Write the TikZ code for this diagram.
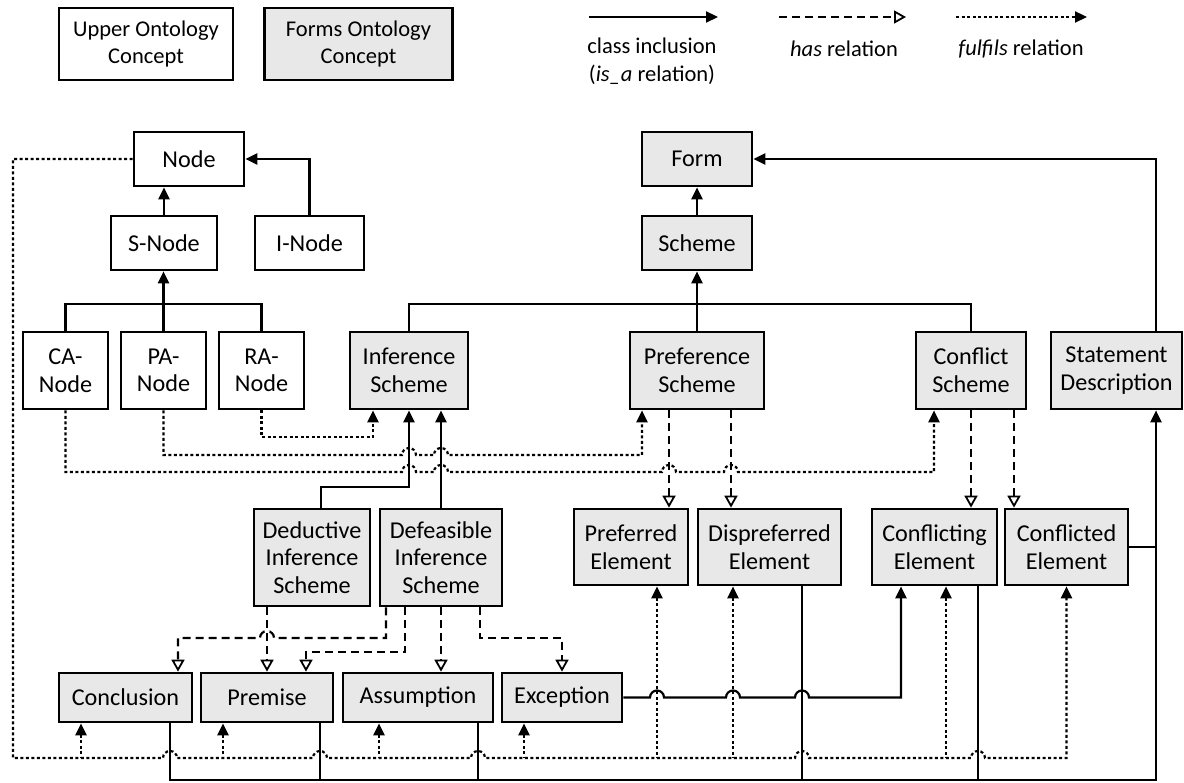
\documentclass[tikz,border=0pt]{standalone}
\usepackage{fontspec}
\setmainfont{Carlito}
\usetikzlibrary{arrows.meta}
\definecolor{formgray}{RGB}{232,232,232}
\newcommand\hopR[2]{-- ({#1-7},{#2}) arc[start angle=180,end angle=0,radius=7]}
\newcommand\hopL[2]{-- ({#1+7},{#2}) arc[start angle=0,end angle=180,radius=7]}
\begin{document}
\begin{tikzpicture}[x=1pt,y=1pt,
  every node/.style={font=\fontsize{24.2}{27.5}\selectfont},
  ubox/.style 2 args={draw, line width=2.7pt, align=center, inner sep=0pt, minimum width=#1, minimum height=#2},
  fbox/.style 2 args={ubox={#1}{#2}, fill=formgray},
  legfont/.style={font=\fontsize{22.5}{27.5}\selectfont},
  lbl/.style={align=center, inner sep=0pt},
  conn/.style={line width=2.2pt},
  isa/.style={conn, -{Triangle[length=12pt,width=11pt]}},
  has/.style={conn, dash pattern=on 8pt off 5pt, -{Triangle[open,length=12pt,width=13pt,line width=1.8pt]}},
  ful/.style={conn, dash pattern=on 3pt off 2.5pt, -{Triangle[length=12pt,width=11pt]}},
  fulb/.style={conn, dash pattern=on 3pt off 2.5pt, {Triangle[length=12pt,width=11pt]}-}]
\useasboundingbox[fill=white] (0,0) rectangle (1184,-783);

% legend
\node[ubox={174}{72}, legfont] (leg1) at (146,-44) {Upper Ontology\\Concept};
\node[fbox={188}{72}, legfont] (leg2) at (358.5,-44) {Forms Ontology\\Concept};
\coordinate (la1) at (589,-17); \coordinate (la2) at (718,-17);
\coordinate (lb1) at (779,-17); \coordinate (lb2) at (906,-17);
\coordinate (lc1) at (956,-17); \coordinate (lc2) at (1087,-17);
\draw[isa] (la1) -- (la2);
\draw[has] (lb1) -- (lb2);
\draw[ful] (lc1) -- (lc2);
\node[lbl, legfont] (lt1) at (652,-61.5) {class inclusion\\(\textit{is\_a} relation)};
\node[lbl, legfont] (lt2) at (844,-49) {\textit{has} relation};
\node[lbl, legfont] (lt3) at (1021,-49) {\textit{fulfils} relation};

% upper ontology
\node[ubox={110}{54}] (node) at (189,-159) {Node};
\node[ubox={106}{54}] (sn) at (164,-243) {S-Node};
\node[ubox={109}{54}] (in) at (309.5,-243) {I-Node};
\node[ubox={85}{77}] (ca) at (65.5,-370.5) {CA-\\Node};
\node[ubox={85}{77}] (pa) at (163.5,-370.5) {PA-\\Node};
\node[ubox={85}{77}] (ra) at (261.5,-370.5) {RA-\\Node};

% forms ontology
\node[fbox={110}{54}] (form) at (697,-159) {Form};
\node[fbox={110}{54}] (sch) at (697,-243) {Scheme};
\node[fbox={118}{77}] (inf) at (409,-370.5) {Inference\\Scheme};
\node[fbox={134}{77}] (pref) at (697,-370.5) {Preference\\Scheme};
\node[fbox={110}{77}] (conf) at (971,-370.5) {Conflict\\Scheme};
\node[fbox={131}{77}] (stmt) at (1116.5,-370.5) {Statement\\Description};
\node[fbox={116}{97}] (ded) at (312,-557.5) {Deductive\\Inference\\Scheme};
\node[fbox={122}{97}] (def) at (441,-557.5) {Defeasible\\Inference\\Scheme};
\node[fbox={114}{76}] (prd) at (631,-547) {Preferred\\Element};
\node[fbox={143}{76}] (dsp) at (769.5,-547) {Dispreferred\\Element};
\node[fbox={125}{76}] (cng) at (934.5,-547) {Conflicting\\Element};
\node[fbox={123}{76}] (cnd) at (1066.5,-547) {Conflicted\\Element};
\node[fbox={133}{49}] (concl) at (125.5,-697.5) {Conclusion};
\node[fbox={132}{49}] (prem) at (267,-697.5) {Premise};
\node[fbox={150}{49}] (ass) at (418,-697.5) {Assumption};
\node[fbox={120}{49}] (exc) at (562,-697.5) {Exception};

\coordinate (bus) at (1156,-780);
\coordinate (fy) at (0,-758);

% class inclusion
\draw[isa] (sn.north) -- (sn.north |- node.south);
\draw[isa] (in.north) |- (node.east);
\draw[conn] (ca.north) -- ++(0,27) -| (ra.north);
\draw[isa] (pa.north) -- (pa.north |- sn.south);
\draw[isa] (sch.north) -- (form.south);
\draw[conn] (inf.north) -- ++(0,27) -| (conf.north);
\draw[isa] (pref.north) -- (sch.south);
\draw[isa] (stmt.north -| bus) |- (form.east);
\draw[isa] ([xshift=9]ded.north) -- ++(0,21) -| (inf.south);
\draw[isa] (def.north) -- (def.north |- inf.south);
\draw[isa] ([xshift=44.5]concl.south) |- (bus) -- (stmt.south -| bus);
\draw[conn] ([xshift=53]prem.south) |- (bus);
\draw[conn] ([xshift=60]ass.south) |- (bus);
\draw[conn] ([xshift=32.5]dsp.south) |- (bus);
\draw[conn] ([xshift=43.5]cng.south) |- (bus);
\draw[conn] (cnd.east) -- (cnd.east -| bus);
\draw[isa] (exc.east) \hopR{657}{-697.5} \hopR{733}{-697.5} \hopR{802}{-697.5} -| ([xshift=-33.5]cng.south);

% has relations
\draw[has] ([xshift=-28]pref.south) coordinate (pb) -- (pb |- prd.north);
\draw[has] ([xshift=34]pref.south) coordinate (pc) -- (pc |- dsp.north);
\draw[has] (conf.south) -- (conf.south |- cng.north);
\draw[has] ([xshift=43]conf.south) coordinate (cc) -- (cc |- cnd.north);
\draw[has] (prem.north |- ded.south) -- (prem.north);
\draw[has] ([xshift=-55]def.south) coordinate (da) -- (da |- 0,-638) \hopL{267}{-638} -| ([xshift=52.5]concl.north);
\draw[has] ([xshift=-36]def.south) coordinate (db) -- (db |- 0,-652) -| ([xshift=39]prem.north);
\draw[has] (def.south) -- (def.south |- ass.north);
\draw[has] ([xshift=39]def.south) coordinate (dc) -- (dc |- 0,-638) -| (exc.north);

% fulfils relations
\draw[ful] (ra.south) -- (ra.south |- 0,-437) -| ([xshift=-36]inf.south);
\draw[ful] (pa.south) -- (pa.south |- 0,-455) \hopR{409}{-455} \hopR{441}{-455} -| ([xshift=-55]pref.south);
\draw[ful] (ca.south) -- (ca.south |- 0,-472) \hopR{409}{-472} \hopR{441}{-472} \hopR{669}{-472} \hopR{731}{-472} -| ([xshift=-37]conf.south);
\draw[ful] (node.west) -| (13,-758) \hopR{170}{-758} \hopR{320}{-758} \hopR{478}{-758} \hopR{802}{-758} \hopR{978}{-758} -| (cnd.south);
\draw[fulb] ([xshift=-44.5]concl.south) coordinate (f1) -- (f1 |- fy);
\draw[fulb] ([xshift=-44]prem.south) coordinate (f2) -- (f2 |- fy);
\draw[fulb] ([xshift=-39]ass.south) coordinate (f3) -- (f3 |- fy);
\draw[fulb] ([xshift=-38]exc.south) coordinate (f4) -- (f4 |- fy);
\draw[fulb] ([xshift=26]prd.south) coordinate (f5) -- (f5 |- fy);
\draw[fulb] ([xshift=-36.5]dsp.south) coordinate (f6) -- (f6 |- fy);
\draw[fulb] ([xshift=11.5]cng.south) coordinate (f7) -- (f7 |- fy);
\end{tikzpicture}
\end{document}
